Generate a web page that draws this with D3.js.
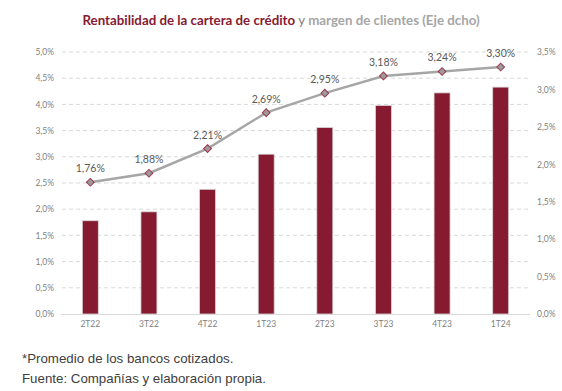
<!DOCTYPE html>
<html><head><meta charset="utf-8">
<script src="https://cdn.jsdelivr.net/npm/d3@7"></script>
<style>body{margin:0;background:#fff;}svg{display:block;}</style>
</head><body>
<script>
const categories = ["2T22","3T22","4T22","1T23","2T23","3T23","4T23","1T24"];
const rentabilidad = [1.78,1.95,2.38,3.05,3.56,3.98,4.22,4.33];
const margen = [1.76,1.88,2.21,2.69,2.95,3.18,3.24,3.30];
const leftTicks = [0,0.5,1,1.5,2,2.5,3,3.5,4,4.5,5];
const rightTicks = [0,0.5,1,1.5,2,2.5,3,3.5];

const W=562,H=391;
const svg=d3.select("body").append("svg").attr("width",W).attr("height",H);
const fmt = v => v.toFixed(1).replace(".",",")+"%";
const fmt2 = v => v.toFixed(2).replace(".",",")+"%";

const x=d3.scaleBand().domain(categories).range([61,530]);
const yL=d3.scaleLinear().domain([0,5]).range([314,52]);
const yR=d3.scaleLinear().domain([0,3.5]).range([314,52]);

svg.append("g").selectAll("line").data(leftTicks.filter(d=>d>0)).join("line")
 .attr("x1",62).attr("x2",530).attr("y1",d=>yL(d)).attr("y2",d=>yL(d))
 .attr("stroke","#d9d9d9").attr("stroke-width",1).attr("stroke-dasharray","4,3");
svg.append("line").attr("x1",61).attr("x2",530).attr("y1",314.5).attr("y2",314.5).attr("stroke","#d9d9d9");

const tickFont = "Lato, sans-serif";
const axL=d3.axisLeft(yL).tickValues(leftTicks).tickFormat(fmt).tickSize(0).tickPadding(0);
const gL=svg.append("g").attr("transform","translate(54,0)").call(axL);
gL.select(".domain").remove();
gL.selectAll("text").attr("fill","#7f7f7f").style("font-family",tickFont).style("font-size","8.5px");

const axR=d3.axisRight(yR).tickValues(rightTicks).tickFormat(fmt).tickSize(0).tickPadding(0);
const gR=svg.append("g").attr("transform","translate(537,0)").call(axR);
gR.select(".domain").remove();
gR.selectAll("text").attr("fill","#7f7f7f").style("font-family",tickFont).style("font-size","8.5px");

const axX=d3.axisBottom(x).tickSize(0).tickPadding(0);
const gX=svg.append("g").attr("transform","translate(0,321)").call(axX);
gX.select(".domain").remove();
gX.selectAll("text").attr("fill","#7f7f7f").style("font-family",tickFont).style("font-size","8.5px");

const bw=16;
svg.append("g").selectAll("rect").data(rentabilidad).join("rect")
 .attr("x",(d,i)=>x(categories[i])+x.bandwidth()/2-bw/2)
 .attr("y",d=>yL(d)).attr("width",bw).attr("height",d=>yL(0)-yL(d))
 .attr("fill","#861a31").attr("stroke","#d9d9d9").attr("stroke-width",0.8);

const line=d3.line().x((d,i)=>x(categories[i])+x.bandwidth()/2).y(d=>yR(d));
svg.append("path").datum(margen).attr("d",line).attr("fill","none")
 .attr("stroke","#a6a6a6").attr("stroke-width",2.5);
svg.append("g").selectAll("path").data(margen).join("path")
 .attr("transform",(d,i)=>`translate(${x(categories[i])+x.bandwidth()/2},${yR(d)}) rotate(45)`)
 .attr("d",d3.symbol(d3.symbolSquare,30))
 .attr("fill","#9b9b9b").attr("stroke","#a0344c").attr("stroke-width",1);
svg.append("g").selectAll("text").data(margen).join("text")
 .attr("x",(d,i)=>x(categories[i])+x.bandwidth()/2).attr("y",d=>yR(d)-10)
 .attr("text-anchor","middle").attr("fill","#595959")
 .style("font-family","Lato, sans-serif").style("font-size","10.5px").text(fmt2);

const t=svg.append("text").attr("x",281).attr("y",25).attr("text-anchor","middle")
 .style("font-family","Lato, sans-serif").style("font-size","13.3px");
t.append("tspan").attr("font-weight","bold").attr("fill","#861a31").text("Rentabilidad de la cartera de crédito");
t.append("tspan").attr("fill","#7f7f7f").text(" y ");
t.append("tspan").attr("font-weight","bold").attr("fill","#a6a6a6").text("margen de clientes (Eje dcho)");

svg.append("text").attr("x",22).attr("y",363).attr("fill","#404040")
 .style("font-family","Liberation Sans, Arial, sans-serif").style("font-size","13.3px").text("*Promedio de los bancos cotizados.");
svg.append("text").attr("x",22).attr("y",383).attr("fill","#404040")
 .style("font-family","Liberation Sans, Arial, sans-serif").style("font-size","13.3px").text("Fuente: Compañías y elaboración propia.");
</script>
</body></html>
